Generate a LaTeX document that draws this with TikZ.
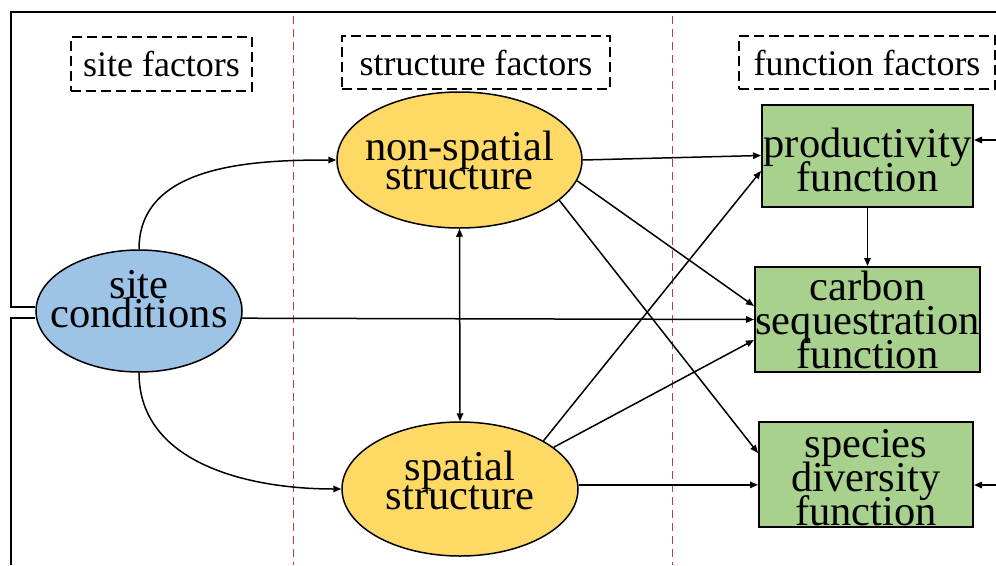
\documentclass[tikz,border=0pt]{standalone}
\usepackage{fontspec}
\setmainfont{Liberation Serif}
\usetikzlibrary{shapes.geometric,arrows.meta,calc}
\definecolor{siteblue}{HTML}{9DC3E6}
\definecolor{structyellow}{HTML}{FFD966}
\definecolor{boxgreen}{HTML}{A9D18E}
\definecolor{divred}{RGB}{192,60,60}
\newcommand{\mydepth}[1]{\rule[-#1]{0pt}{#1}}
\newcommand{\myheight}[1]{\rule{0pt}{#1}}
\newcommand{\ellfont}{\fontsize{42.5pt}{29pt}\selectfont\lineskiplimit=-100pt\relax}
\newcommand{\fnfont}{\fontsize{42.5pt}{34pt}\selectfont\lineskiplimit=-100pt\relax}
\newcommand{\hdrfont}{\fontsize{36pt}{36pt}\selectfont}
\begin{document}
\begin{tikzpicture}[x=1pt,y=-1pt,
  conn/.style={line width=1.5pt,-{Triangle[length=8pt,width=6.5pt]}},
  dconn/.style={line width=1.5pt,{Triangle[length=8pt,width=6.5pt]}-{Triangle[length=8pt,width=6.5pt]}},
  ell/.style={ellipse,draw,line width=1.5pt,inner sep=0pt},
  elltext/.style={inner sep=0pt,align=center,font=\ellfont},
  fnbox/.style={rectangle,draw,line width=2pt,fill=boxgreen,inner sep=0pt,align=center,font=\fnfont},
  hdr/.style={rectangle,draw,dash pattern=on 10pt off 5pt,line width=1.8pt,inner sep=0pt,font=\hdrfont},
  divider/.style={draw=divred,line width=1pt,dash pattern=on 8pt off 5pt},
  framel/.style={line width=2pt}]
\useasboundingbox (0,0) rectangle (996,565);
% dividers
\coordinate (d1t) at (293,16); \coordinate (d1b) at (293,565);
\coordinate (d2t) at (672,16); \coordinate (d2b) at (672,565);
\draw[divider] (d1t) -- (d1b);
\draw[divider] (d2t) -- (d2b);
% headers
\node[hdr,minimum width=181pt,minimum height=54pt] (h1) at (161.5,64) {site factors};
\node[hdr,minimum width=268pt,minimum height=53pt] (h2) at (476,62.5) {structure factors};
\node[hdr,minimum width=256pt,minimum height=53pt] (h3) at (867,62.5) {function factors};
% ellipses
\node[ell,fill=siteblue,minimum width=206pt,minimum height=122pt] (site) at (139,311) {};
\node[elltext] (sitetxt) at (site) {site\\conditions\mydepth{24pt}};
\node[ell,fill=structyellow,minimum width=245pt,minimum height=136pt] (ns) at (459.5,160) {};
\node[elltext] (nstxt) at (ns) {non-spatial\\structure};
\node[ell,fill=structyellow,minimum width=236pt,minimum height=134pt] (sp) at (460,489) {};
\node[elltext] (sptxt) at (sp) {spatial\\structure\mydepth{17pt}};
% function boxes
\node[fnbox,minimum width=211pt,minimum height=102pt] (prod) at (867.5,155.5) {\myheight{38pt}productivity\\function};
\node[fnbox,minimum width=225pt,minimum height=105pt] (carb) at (867.5,319.5) {carbon\\sequestration\\function};
\node[fnbox,minimum width=214pt,minimum height=105pt] (spec) at (866,474.5) {\myheight{35pt}species\\diversity\\function};
% frame
\coordinate (tr) at (996,12); \coordinate (tl) at (11,12);
\coordinate (f1) at (11,307); \coordinate (f2) at (11,318); \coordinate (fb) at (11,565);
\draw[framel] (tr) -- (tl) -- (f1) -- (f1 -| site.west);
\draw[framel] (fb) -- (f2) -- (f2 -| site.west);
% right-edge inputs
\coordinate (r1) at (996,140); \coordinate (r2) at (996,485);
\draw[conn] (r1) -- (r1 -| prod.east);
\draw[conn] (r2) -- (r2 -| spec.east);
% connectors
\draw[conn] (site.north) to[out=90,in=180] (ns.west);
\draw[conn] (site.south) to[out=-90,in=180] (sp.west);
\draw[conn] (site.-4) -- (carb.west);
\draw[conn] (ns.east) -- (prod.west);
\draw[conn] (ns.-10.5) -- ($(carb.west)+(0,-13.5)$);
\draw[conn] (ns.-22) -- ($(spec.west)+(0,-21.5)$);
\draw[dconn] (ns.south) -- (sp.north);
\draw[conn] (sp.30) -- ($(prod.west)+(0,15.5)$);
\draw[conn] (sp.24) -- ($(carb.west)+(0,20.5)$);
\draw[conn] (sp.2) -- (sp.2 -| spec.west);
\draw[conn] (prod.south) -- (carb.north);
\end{tikzpicture}
\end{document}
